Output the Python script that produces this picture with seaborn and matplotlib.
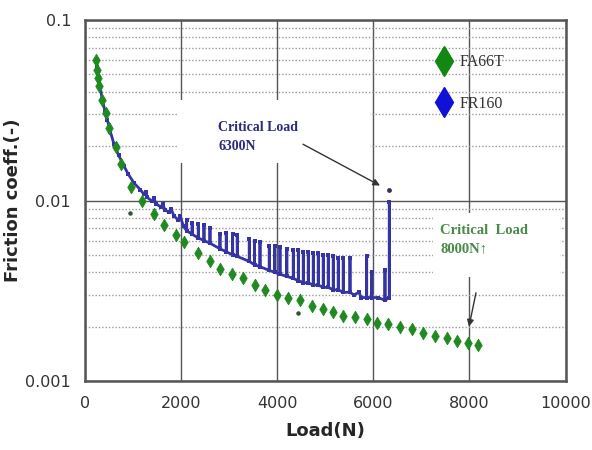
import numpy as np
import pandas as pd
import matplotlib
matplotlib.use("Agg")
import matplotlib.pyplot as plt
import seaborn as sns
from matplotlib.lines import Line2D
from matplotlib.patches import Rectangle
from matplotlib.ticker import LogLocator, FixedLocator, FixedFormatter, NullFormatter

# FA66T (green diamonds): load (N) vs friction coefficient
fa66t_load = [230, 255, 275, 291, 354, 431, 500, 639, 743, 951, 1192, 1436, 1644, 1888,
              2070, 2358, 2601, 2809, 3053, 3294, 3538, 3746, 3989, 4231, 4474, 4718,
              4959, 5167, 5375, 5619, 5862, 6070, 6312, 6555, 6799, 7040, 7284, 7527,
              7735, 7976, 8178]
fa66t_mu = [0.060, 0.053, 0.048, 0.043, 0.036, 0.0304, 0.0251, 0.0198, 0.0160, 0.0119,
            0.0100, 0.0084, 0.0073, 0.0064, 0.0059, 0.0051, 0.0046, 0.0042, 0.0039,
            0.0037, 0.0034, 0.0032, 0.0030, 0.0029, 0.0028, 0.0026, 0.0025, 0.0024,
            0.0023, 0.00225, 0.0022, 0.0021, 0.00206, 0.0020, 0.00193, 0.00185,
            0.00178, 0.00173, 0.00167, 0.00162, 0.00158]
fa66t_stray_load = [936, 4440]
fa66t_stray_mu = [0.0085, 0.00237]

# FR160 (blue): smooth start, then stick-slip spikes (load, base, top)
fr160_start_load = [243, 255, 275, 300, 320, 360, 420, 464, 530, 603, 700, 811, 900, 1019,
                    1150, 1230, 1260, 1296, 1400, 1430, 1480, 1575, 1620, 1660, 1750,
                    1790, 1852, 1940, 1980, 2050]
fr160_start_mu = [0.060, 0.055, 0.050, 0.046, 0.042, 0.036, 0.031, 0.028, 0.024, 0.0205,
                  0.0178, 0.0155, 0.0140, 0.0125, 0.0115, 0.0108, 0.0112, 0.0104, 0.0099,
                  0.0103, 0.0096, 0.0092, 0.0096, 0.0089, 0.0086, 0.0090, 0.0082, 0.0078,
                  0.0082, 0.0072]
spike_load = [2116, 2230, 2358, 2476, 2601, 2809, 2940, 3073, 3169, 3419, 3530, 3642, 3835,
              3950, 4058, 4200, 4335, 4440, 4543, 4647, 4751, 4855, 4959, 5063, 5167, 5271,
              5375, 5515, 5600, 5700, 5750, 5862, 5966, 6100, 6243, 6333]
spike_base = [0.0068, 0.0065, 0.0062, 0.0060, 0.0058, 0.0054, 0.0052, 0.0050, 0.0049,
              0.0046, 0.0044, 0.0043, 0.0041, 0.0040, 0.0039, 0.0038, 0.0037, 0.0036,
              0.0035, 0.0035, 0.0034, 0.0034, 0.0033, 0.0033, 0.0032, 0.0032, 0.0031,
              0.0031, 0.0030, 0.0031, 0.0029, 0.0029, 0.0029, 0.0029, 0.0028, 0.0029]
spike_top = [0.0078, 0.0075, 0.0074, 0.0073, 0.0070, 0.0065, 0.0066, 0.0065, 0.0064,
             0.0061, 0.0060, 0.0059, 0.0056, 0.0056, 0.0055, 0.0054, 0.0053, 0.0053,
             0.0052, 0.0052, 0.0051, 0.0051, 0.0050, 0.0050, 0.0049, 0.0048, 0.0048,
             0.0048, 0.0030, 0.0031, 0.0029, 0.0049, 0.0040, 0.0029, 0.0041, 0.0098]
fr160_end_load = [6333]
fr160_end_mu = [0.0115]

# build blue path in drawing order
path_load, path_mu = list(fr160_start_load), list(fr160_start_mu)
for L, b, t in zip(spike_load, spike_base, spike_top):
    path_load += [L, L, L]
    path_mu += [b, t, b]
blue = pd.DataFrame({"load": path_load, "mu": path_mu})
green = pd.DataFrame({"load": fa66t_load, "mu": fa66t_mu})

GREEN = "#1f8a1f"
BLUE = "#3434a4"

sns.set_style("white")
fig = plt.figure(figsize=(5.92, 4.5), dpi=100)
ax = fig.add_axes([85 / 592, 1 - 381 / 450, 480.5 / 592, 361 / 450])

ax.set_yscale("log")
ax.set_xlim(0, 10000)
ax.set_ylim(0.001, 0.1)

sns.lineplot(data=blue, x="load", y="mu", sort=False, estimator=None, color=BLUE,
             lw=2.0, marker="s", markersize=2.6, markeredgewidth=0, ax=ax, zorder=3)
ax.scatter(fr160_end_load, fr160_end_mu, s=6, color="#333355", zorder=3)
sns.scatterplot(data=green, x="load", y="mu", marker="d", s=40, color=GREEN,
                edgecolor=GREEN, linewidth=0.6, ax=ax, zorder=4)
ax.scatter(fa66t_stray_load, fa66t_stray_mu, s=5, color="#335533", zorder=4)

# grid
ax.set_axisbelow(True)
ax.xaxis.set_major_locator(FixedLocator([0, 2000, 4000, 6000, 8000, 10000]))
ax.yaxis.set_major_locator(FixedLocator([0.001, 0.01, 0.1]))
ax.yaxis.set_major_formatter(FixedFormatter(["0.001", "0.01", "0.1"]))
ax.yaxis.set_minor_locator(LogLocator(base=10, subs=np.arange(2, 10)))
ax.yaxis.set_minor_formatter(NullFormatter())
ax.grid(which="major", color="#555555", lw=1.0)
ax.grid(which="minor", axis="y", color="#9a9a9a", lw=1.0, ls=(0, (1.0, 1.4)))

for s in ax.spines.values():
    s.set_color("#555555")
    s.set_linewidth(1.8)

ax.tick_params(which="both", length=0)
ax.tick_params(axis="y", labelsize=11.5, pad=10, colors="#333333")
ax.tick_params(axis="x", labelsize=11.5, pad=11, colors="#333333")

ax.set_xlabel("Load(N)", fontsize=13, fontweight="bold", labelpad=8)
ax.set_ylabel("Friction coeff.(-)", fontsize=13, fontweight="bold")
ax.yaxis.set_label_coords(-0.131, 0.5)

# white text boxes that hide the grid
ax.add_patch(Rectangle((0.194, 0.604), 0.399, 0.174, transform=ax.transAxes,
                       facecolor="white", edgecolor="none", zorder=0.8))
ax.add_patch(Rectangle((0.724, 0.288), 0.265, 0.177, transform=ax.transAxes,
                       facecolor="white", edgecolor="none", zorder=0.8))

serif = ["Liberation Serif", "DejaVu Serif"]
ax.text(0.277, 0.72, "Critical Load\n6300N", transform=ax.transAxes, va="top",
        ha="left", color="#2a2a7a", fontsize=10, fontweight="bold", family=serif,
        linespacing=1.6, zorder=5)
ax.text(0.739, 0.435, "Critical  Load\n8000N\u2191", transform=ax.transAxes, va="top",
        ha="left", color="#4a8a4a", fontsize=10.5, fontweight="bold", family=serif,
        linespacing=1.5, zorder=5)

ax.annotate("", xy=(6140, 0.0121), xytext=(4537, 0.0205),
            arrowprops=dict(arrowstyle="-|>", color="#333333", lw=1.0,
                            mutation_scale=10, shrinkA=0, shrinkB=0), zorder=5)
ax.annotate("", xy=(7991, 0.0020), xytext=(8137, 0.00308),
            arrowprops=dict(arrowstyle="-|>", color="#333333", lw=1.0,
                            mutation_scale=10, shrinkA=0, shrinkB=0), zorder=5)

handles = [Line2D([], [], marker="d", ls="none", color="#118811", markersize=15),
           Line2D([], [], marker="d", ls="none", color="#1010d8", markersize=15)]
leg = ax.legend(handles, ["FA66T", "FR160"], loc="upper left",
                bbox_to_anchor=(0.727, 0.905), frameon=False, borderaxespad=0,
                borderpad=0, handlelength=1.2, handletextpad=0.4, labelspacing=1.6,
                prop={"family": serif, "size": 11.5})
for t in leg.get_texts():
    t.set_color("#333333")

fig.savefig("out.png", dpi=100)
